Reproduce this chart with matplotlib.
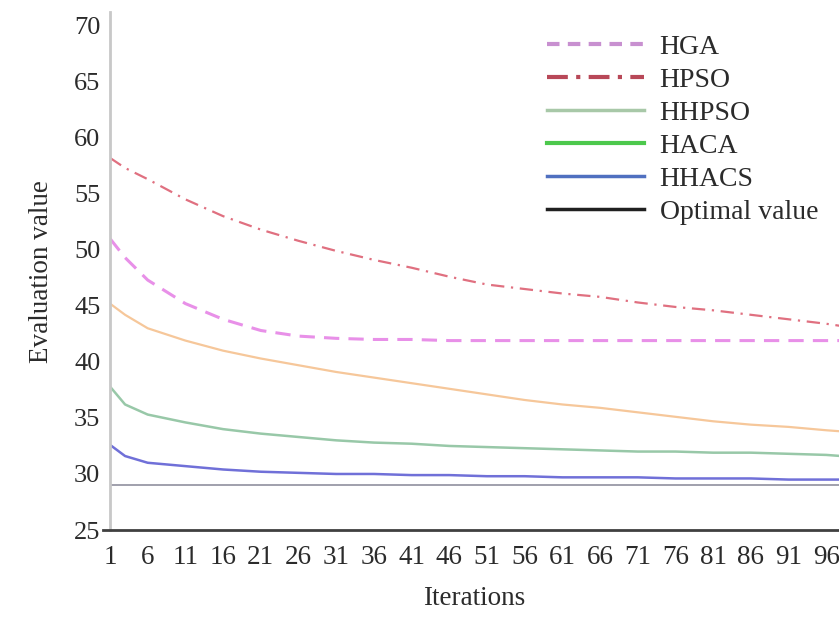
import numpy as np
import matplotlib
matplotlib.use("Agg")
import matplotlib.pyplot as plt
from matplotlib.lines import Line2D

plt.rcParams['font.family'] = ['Liberation Serif', 'DejaVu Serif']

# values
iterations = [1, 3, 6, 11, 16, 21, 26, 31, 36, 41, 46, 51, 56, 61, 66, 71, 76, 81, 86, 91, 96, 98]
hga = [51.0, 49.3, 47.3, 45.2, 43.8, 42.8, 42.3, 42.1, 42.0, 42.0, 41.9, 41.9, 41.9, 41.9, 41.9,
       41.9, 41.9, 41.9, 41.9, 41.9, 41.9, 41.9]
hpso = [58.2, 57.3, 56.3, 54.5, 53.0, 51.8, 50.8, 49.9, 49.1, 48.4, 47.6, 46.9, 46.5, 46.1, 45.8,
        45.3, 44.9, 44.6, 44.2, 43.8, 43.4, 43.2]
hhpso = [45.2, 44.2, 43.0, 41.9, 41.0, 40.3, 39.7, 39.1, 38.6, 38.1, 37.6, 37.1, 36.6, 36.2, 35.9,
         35.5, 35.1, 34.7, 34.4, 34.2, 33.9, 33.8]
haca = [37.8, 36.2, 35.3, 34.6, 34.0, 33.6, 33.3, 33.0, 32.8, 32.7, 32.5, 32.4, 32.3, 32.2, 32.1,
        32.0, 32.0, 31.9, 31.9, 31.8, 31.7, 31.6]
hhacs = [32.6, 31.6, 31.0, 30.7, 30.4, 30.2, 30.1, 30.0, 30.0, 29.9, 29.9, 29.8, 29.8, 29.7, 29.7,
         29.7, 29.6, 29.6, 29.6, 29.5, 29.5, 29.5]
optimal = [29.0] * len(iterations)

xtick_values = list(range(1, 97, 5))
ytick_values = list(range(25, 71, 5))

legend_names = ['HGA', 'HPSO', 'HHPSO', 'HACA', 'HHACS', 'Optimal value']

fig = plt.figure(figsize=(8.39, 6.30), dpi=100)
ax = fig.add_axes([0.1311, 0.1587, 0.869, 0.822])

text_color = '#2b2b2b'

# curves (colours as they appear inside the plot area)
ax.plot(iterations, hpso, color='#e07080', lw=1.6, dashes=(6, 3, 1, 3))
ax.plot(iterations, hga, color='#e890e8', lw=2.2, dashes=(5, 3))
ax.plot(iterations, hhpso, color='#f6c79a', lw=1.6)
ax.plot(iterations, haca, color='#98c8a8', lw=1.8)
ax.plot(iterations, hhacs, color='#7070d8', lw=1.8)
ax.plot(iterations, optimal, color='#a0a0ac', lw=1.4)

ax.set_xlim(1, 97.7)
ax.set_ylim(25, 71.2)
ax.set_xticks(xtick_values)
ax.set_xticklabels([str(v) for v in xtick_values])
ax.set_yticks(ytick_values)

ax.tick_params(axis='x', length=0, pad=11, labelsize=19.5, colors=text_color)
ax.tick_params(axis='y', length=0, pad=7, labelsize=19, colors=text_color)

for side in ['top', 'right']:
    ax.spines[side].set_visible(False)
ax.spines['left'].set_color('#c8c8c8')
ax.spines['left'].set_linewidth(2)
ax.spines['bottom'].set_color('#404040')
ax.spines['bottom'].set_linewidth(2)
ax.spines['bottom'].set_bounds(0.1, 97.7)

ax.set_xlabel('Iterations', fontsize=19.5, color=text_color, labelpad=11)
ax.set_ylabel('Evaluation value', fontsize=19.5, color=text_color, labelpad=14)

# legend colours as drawn in the original legend
handles = [
    Line2D([], [], color='#c890d0', lw=3, dashes=(3, 2)),
    Line2D([], [], color='#b84858', lw=3, dashes=(5, 2, 1, 2)),
    Line2D([], [], color='#a8c8a8', lw=2.5),
    Line2D([], [], color='#4cc84c', lw=3),
    Line2D([], [], color='#5070c0', lw=2.5),
    Line2D([], [], color='#202020', lw=2.5),
]
leg = fig.legend(handles, legend_names, loc='upper left', bbox_to_anchor=(0.652, 0.945),
                 frameon=False, fontsize=20, handlelength=3.5, handletextpad=0.55,
                 labelspacing=0.27, borderpad=0, borderaxespad=0)
for t in leg.get_texts():
    t.set_color(text_color)

fig.savefig('out.png', dpi=100)
